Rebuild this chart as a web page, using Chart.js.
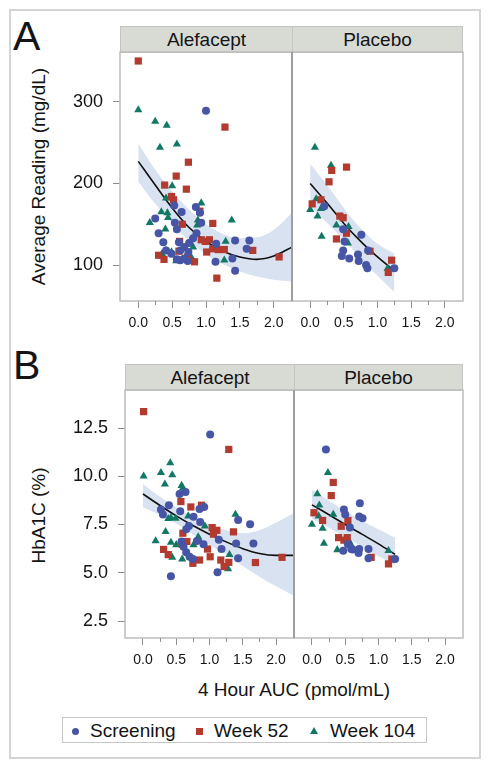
<!DOCTYPE html>
<html lang="en">
<head>
<meta charset="UTF-8" />
<title>Average Reading and HbA1C vs 4 Hour AUC</title>
<script src="https://cdn.jsdelivr.net/npm/chart.js"></script>
<style>
  body { margin: 0; background: #fff; font-family: "Liberation Sans", Arial, sans-serif; color: #141414; }
  #page { position: relative; width: 490px; height: 770px; overflow: hidden; }
  #page > * { position: absolute; }
  #outer { left: 9px; top: 9px; width: 472px; height: 750px; border: 2px solid #d4d4d4; box-sizing: border-box; }
  .panelLabel { font-size: 41px; line-height: 1; }
  .strip { background: #d8dad4; border: 1px solid #c4c4c4; box-sizing: border-box; font-size: 19px;
           display: flex; align-items: center; justify-content: center; }
  .divider { width: 2px; background: #9e9e9e; }
  .ytitle { width: 300px; height: 19px; font-size: 19px; line-height: 19px; text-align: center; transform: rotate(-90deg); white-space: nowrap; }
  .xtitle { font-size: 19px; line-height: 1; text-align: center; white-space: nowrap; }
  #legend { left: 62px; top: 717px; width: 365px; height: 26px; border: 1px solid #c6c6c6; box-sizing: border-box; }
  .ltext { font-size: 19px; line-height: 1; white-space: nowrap; }
  .mk-circle { width: 7px; height: 7px; border-radius: 50%; background: #4655a5; }
  .mk-square { width: 7px; height: 7px; background: #b23a2e; }
  .mk-tri { width: 0; height: 0; border-left: 4px solid transparent; border-right: 4px solid transparent; border-bottom: 7px solid #127864; }
</style>
</head>
<body>
<div id="page">
  <div id="outer"></div>

  <div class="panelLabel" style="left:13px; top:16px;">A</div>
  <div class="panelLabel" style="left:13px; top:345px;">B</div>

  <div class="strip" style="left:120px; top:26px; width:173px; height:27px;">Alefacept</div>
  <div class="strip" style="left:292px; top:26px; width:171px; height:27px;">Placebo</div>
  <div class="strip" style="left:125px; top:364px; width:170px; height:27px;">Alefacept</div>
  <div class="strip" style="left:294px; top:364px; width:169px; height:27px;">Placebo</div>

  <canvas id="cAL" width="234" height="295" style="left:60px; top:46px;"></canvas>
  <canvas id="cAR" width="176" height="295" style="left:290px; top:46px;"></canvas>
  <canvas id="cBL" width="236" height="294" style="left:60px; top:384px;"></canvas>
  <canvas id="cBR" width="174" height="294" style="left:292px; top:384px;"></canvas>

  <div class="divider" style="left:291px; top:52px; height:249px;"></div>
  <div class="divider" style="left:293px; top:390px; height:248px;"></div>

  <div class="ytitle" style="left:-112px; top:167px;">Average Reading (mg/dL)</div>
  <div class="ytitle" style="left:-112px; top:506px;">HbA1C (%)</div>
  <div class="xtitle" style="left:94px; top:680px; width:400px;">4 Hour AUC (pmol/mL)</div>

  <div id="legend"></div>
  <div class="mk-circle" style="left:72px; top:728px;"></div>
  <div class="ltext" style="left:90px; top:721px;">Screening</div>
  <div class="mk-square" style="left:196px; top:728px;"></div>
  <div class="ltext" style="left:214px; top:721px;">Week 52</div>
  <div class="mk-tri" style="left:310px; top:727px;"></div>
  <div class="ltext" style="left:330px; top:721px;">Week 104</div>
</div>

<script>
  // x axis (shared by all panels)
  const xMin = -0.27, xMax = 2.27;
  const xMajor = [0, 0.5, 1, 1.5, 2];
  const xMajorLabels = ['0.0', '0.5', '1.0', '1.5', '2.0'];
  const xMinor = [0.25, 0.75, 1.25, 1.75];

  // y axes
  const glucoseRange = [56, 361];
  const glucoseTicks = [100, 200, 300];
  const glucoseTickLabels = ['100', '200', '300'];
  const hba1cRange = [1.62, 14.47];
  const hba1cTicks = [2.5, 5, 7.5, 10, 12.5];
  const hba1cTickLabels = ['2.5', '5.0', '7.5', '10.0', '12.5'];

  // A - Alefacept  [AUC, average reading]
  const glucAleScreening = [[1.00,289],[0.53,173],[0.64,165],[0.85,171],[0.91,164],[0.93,152],[0.25,157],[0.30,139],
    [0.54,152],[0.57,144],[0.37,128],[0.75,127],[0.68,122],[0.86,139],[0.81,133],[1.15,126],[1.43,130],[1.64,130],
    [1.60,120],[1.39,108],[1.14,104],[1.43,93],[0.62,118],[0.74,116],[0.57,107],[0.68,108],[0.62,106],[0.73,105],
    [0.41,118],[0.49,114],[0.60,128]];
  const glucAleWeek52 = [[0.00,350],[1.28,269],[0.74,226],[0.56,209],[0.39,198],[0.71,193],[0.49,184],[0.52,180],
    [0.91,166],[0.65,150],[1.10,151],[0.61,129],[0.93,131],[0.99,129],[1.05,131],[1.01,116],[1.10,120],[1.18,119],
    [1.27,119],[0.60,117],[1.69,118],[2.08,110],[0.30,112],[0.38,107],[0.73,110],[0.83,104],[1.16,84]];
  const glucAleWeek104 = [[0.00,290],[0.25,276],[0.42,271],[0.32,244],[0.57,248],[0.50,197],[0.41,182],[0.34,165],
    [0.43,164],[0.44,158],[0.17,152],[0.40,144],[0.93,176],[0.88,155],[0.87,149],[1.38,155],[0.78,131],[0.76,127],
    [0.81,122],[1.29,129],[0.41,118],[0.49,116],[0.56,105],[1.27,106],[0.35,114],[0.78,110]];
  const glucAleFitX = [0, 0.25, 0.5, 0.75, 1.0, 1.25, 1.5, 1.75, 2.0, 2.27];
  const glucAleFit = [227, 198, 170, 146, 129, 117, 110, 107, 111, 122];
  const glucAleUpper = [249, 217, 190, 168, 150, 138, 133, 134, 143, 164];
  const glucAleLower = [202, 175, 151, 130, 113, 101, 92, 86, 82, 80];

  // A - Placebo
  const glucPlaScreening = [[0.21,172],[0.49,144],[0.51,129],[0.76,137],[0.49,118],[0.47,111],[0.58,108],[0.71,113],
    [0.72,105],[0.83,100],[0.85,96],[0.86,118],[1.25,96]];
  const glucPlaWeek52 = [[0.54,220],[0.32,216],[0.28,202],[0.03,175],[0.16,180],[0.44,160],[0.49,158],[0.54,139],
    [0.39,132],[0.89,117],[1.21,106],[1.16,91]];
  const glucPlaWeek104 = [[0.07,244],[0.31,222],[0.00,168],[0.09,181],[0.16,169],[0.11,160],[0.17,135],[0.39,149],
    [0.57,147],[0.56,127],[1.15,96]];
  const glucPlaFitX = [0, 0.25, 0.5, 0.75, 1.0, 1.25];
  const glucPlaFit = [200, 176, 151, 129, 110, 93];
  const glucPlaUpper = [224, 198, 170, 145, 126, 114];
  const glucPlaLower = [172, 152, 131, 108, 87, 67];

  // B - Alefacept  [AUC, HbA1C]
  const hbaAleScreening = [[1.01,12.16],[0.55,9.08],[0.64,9.18],[0.39,8.5],[0.27,8.28],[0.30,8.02],[0.56,8.19],[0.92,8.41],
    [0.85,8.31],[0.76,7.9],[0.86,7.63],[0.69,7.42],[0.65,7.25],[1.43,7.73],[1.61,7.51],[1.14,6.71],[1.40,6.52],[1.66,6.52],
    [1.18,6.23],[1.43,5.75],[1.12,5.03],[0.42,4.82],[0.58,6.62],[0.61,6.35],[0.65,6.06],[0.70,5.83],[0.75,5.71],[0.91,6.48],
    [0.81,6.65]];
  const hbaAleWeek52 = [[0.01,13.35],[1.29,11.39],[0.57,8.69],[0.72,8.41],[0.88,8.5],[1.04,7.34],[1.11,7.2],[1.36,7.12],
    [1.06,7.0],[0.60,7.05],[0.66,6.62],[0.59,6.48],[0.31,6.21],[0.38,5.94],[0.85,5.66],[0.75,5.49],[0.97,6.23],[1.01,5.83],
    [1.17,5.66],[1.29,5.54],[1.22,5.32],[1.69,5.53],[2.09,5.8]];
  const hbaAleWeek104 = [[0.01,10.0],[0.41,10.69],[0.27,10.19],[0.44,10.07],[0.33,9.59],[0.58,9.52],[0.60,9.39],[0.42,7.85],
    [0.49,7.82],[0.68,7.94],[0.34,7.13],[0.19,6.65],[0.42,6.57],[0.50,6.45],[0.76,6.45],[0.83,6.86],[0.93,7.41],[1.39,8.02],
    [1.30,5.94],[0.44,5.8],[0.59,5.71],[1.28,5.2],[0.84,6.74],[0.38,7.8]];
  const hbaAleFitX = [0, 0.25, 0.5, 0.75, 1.0, 1.25, 1.5, 1.75, 2.0, 2.27];
  const hbaAleFit = [9.08, 8.5, 7.95, 7.45, 7.0, 6.6, 6.25, 6.0, 5.9, 5.9];
  const hbaAleUpper = [9.6, 8.95, 8.4, 7.9, 7.5, 7.2, 7.05, 7.2, 7.6, 8.1];
  const hbaAleLower = [8.4, 8.0, 7.55, 7.0, 6.45, 5.95, 5.35, 4.8, 4.3, 3.8];

  // B - Placebo
  const hbaPlaScreening = [[0.21,11.39],[0.48,8.28],[0.50,8.02],[0.72,8.6],[0.71,7.92],[0.76,7.82],[0.57,7.34],[0.54,6.48],
    [0.59,6.23],[0.47,6.14],[0.71,6.23],[0.70,6.02],[0.85,6.23],[0.85,5.75],[1.25,5.71],[0.61,6.2]];
  const hbaPlaWeek52 = [[0.32,9.68],[0.29,9.0],[0.03,8.11],[0.16,7.71],[0.44,7.41],[0.54,7.71],[0.40,6.82],[0.48,6.69],
    [0.53,6.82],[0.89,5.8],[1.20,5.71],[1.15,5.46]];
  const hbaPlaWeek104 = [[0.24,10.19],[0.08,9.08],[0.11,8.5],[0.10,7.94],[0.32,8.02],[0.00,7.51],[0.16,7.3],[0.18,6.52],
    [0.38,6.19],[0.56,6.62],[0.58,6.48],[1.15,6.14]];
  const hbaPlaFitX = [0, 0.25, 0.5, 0.75, 1.0, 1.25];
  const hbaPlaFit = [8.52, 8.02, 7.5, 7.0, 6.5, 5.95];
  const hbaPlaUpper = [9.3, 8.75, 8.2, 7.7, 7.25, 6.8];
  const hbaPlaLower = [7.8, 7.35, 6.85, 6.35, 5.85, 5.4];

  const BLUE = '#4655a5', RED = '#b23a2e', GREEN = '#127864', BAND = '#d9e2f1';
  const TICK = '#8c8c8c', TEXT = '#141414';

  Chart.defaults.font.family = '"Liberation Sans", Arial, sans-serif';
  Chart.defaults.color = TEXT;

  // plot frame + short minor ticks on the x axis
  const framePlugin = {
    id: 'frame',
    afterDatasetsDraw(chart) {
      const a = chart.chartArea, ctx = chart.ctx, sx = chart.scales.x;
      ctx.save();
      ctx.strokeStyle = '#bdbdbd';
      ctx.lineWidth = 1.5;
      ctx.strokeRect(a.left, a.top, a.right - a.left, a.bottom - a.top);
      ctx.strokeStyle = TICK;
      ctx.lineWidth = 1;
      xMinor.forEach(v => {
        const px = Math.round(sx.getPixelForValue(v)) + 0.5;
        ctx.beginPath();
        ctx.moveTo(px, a.bottom);
        ctx.lineTo(px, a.bottom + 4);
        ctx.stroke();
      });
      ctx.restore();
    }
  };

  // fixed axis sizes, no extra label padding, so plot areas line up with the strips
  function fixAxis(s, size) {
    if (s.isHorizontal()) s.height = size; else s.width = size;
    s.paddingTop = 0; s.paddingBottom = 0; s.paddingLeft = 0; s.paddingRight = 0;
  }

  const toPts = list => list.map(p => ({ x: p[0], y: p[1] }));
  const toLine = (xs, ys) => xs.map((x, i) => ({ x: x, y: ys[i] }));

  function makePanel(id, p) {
    const curve = { showLine: true, pointRadius: 0, cubicInterpolationMode: 'monotone' };
    new Chart(document.getElementById(id), {
      type: 'scatter',
      data: {
        datasets: [
          Object.assign({ data: toLine(p.fitX, p.upper), borderColor: 'transparent', borderWidth: 0,
                          fill: 1, backgroundColor: BAND, order: 5 }, curve),
          Object.assign({ data: toLine(p.fitX, p.lower), borderColor: 'transparent', borderWidth: 0,
                          fill: false, order: 5 }, curve),
          Object.assign({ data: toLine(p.fitX, p.fit), borderColor: '#111', borderWidth: 1.6,
                          fill: false, order: 4 }, curve),
          { data: toPts(p.screening), pointStyle: 'circle', pointRadius: 4, backgroundColor: BLUE, borderWidth: 0, order: 1 },
          { data: toPts(p.week52), pointStyle: 'rect', pointRadius: 5.1, backgroundColor: RED, borderWidth: 0, order: 1 },
          { data: toPts(p.week104), pointStyle: 'triangle', pointRadius: 4.7, backgroundColor: GREEN, borderWidth: 0, order: 1 }
        ]
      },
      options: {
        responsive: false,
        animation: false,
        devicePixelRatio: 1,
        layout: { padding: p.padding, autoPadding: false },
        plugins: { legend: { display: false }, tooltip: { enabled: false } },
        scales: {
          x: {
            type: 'linear', min: xMin, max: xMax,
            afterBuildTicks: s => { s.ticks = xMajor.map(v => ({ value: v })); },
            afterFit: s => fixAxis(s, 40),
            ticks: { autoSkip: false, maxRotation: 0, padding: 7, color: TEXT, font: { size: 14 },
                     callback: (v, i) => xMajorLabels[i] },
            grid: { drawOnChartArea: false, tickLength: 7, tickColor: TICK },
            border: { display: false }
          },
          y: {
            type: 'linear', min: p.yRange[0], max: p.yRange[1], display: p.showY,
            afterBuildTicks: s => { s.ticks = p.yTicks.map(v => ({ value: v })); },
            afterFit: s => fixAxis(s, p.yWidth),
            ticks: { padding: 10, color: TEXT, font: { size: 18 }, callback: (v, i) => p.yLabels[i] },
            grid: { drawOnChartArea: false, tickLength: 7, tickColor: TICK },
            border: { display: false }
          }
        }
      },
      plugins: [framePlugin]
    });
  }

  makePanel('cAL', {
    screening: glucAleScreening, week52: glucAleWeek52, week104: glucAleWeek104,
    fitX: glucAleFitX, fit: glucAleFit, upper: glucAleUpper, lower: glucAleLower,
    yRange: glucoseRange, yTicks: glucoseTicks, yLabels: glucoseTickLabels,
    showY: true, yWidth: 60, padding: { top: 6, right: 2, left: 0, bottom: 0 }
  });
  makePanel('cAR', {
    screening: glucPlaScreening, week52: glucPlaWeek52, week104: glucPlaWeek104,
    fitX: glucPlaFitX, fit: glucPlaFit, upper: glucPlaUpper, lower: glucPlaLower,
    yRange: glucoseRange, yTicks: glucoseTicks, yLabels: glucoseTickLabels,
    showY: false, yWidth: 0, padding: { top: 6, right: 3, left: 2, bottom: 0 }
  });
  makePanel('cBL', {
    screening: hbaAleScreening, week52: hbaAleWeek52, week104: hbaAleWeek104,
    fitX: hbaAleFitX, fit: hbaAleFit, upper: hbaAleUpper, lower: hbaAleLower,
    yRange: hba1cRange, yTicks: hba1cTicks, yLabels: hba1cTickLabels,
    showY: true, yWidth: 65, padding: { top: 6, right: 2, left: 0, bottom: 0 }
  });
  makePanel('cBR', {
    screening: hbaPlaScreening, week52: hbaPlaWeek52, week104: hbaPlaWeek104,
    fitX: hbaPlaFitX, fit: hbaPlaFit, upper: hbaPlaUpper, lower: hbaPlaLower,
    yRange: hba1cRange, yTicks: hba1cTicks, yLabels: hba1cTickLabels,
    showY: false, yWidth: 0, padding: { top: 6, right: 3, left: 2, bottom: 0 }
  });
</script>
</body>
</html>
